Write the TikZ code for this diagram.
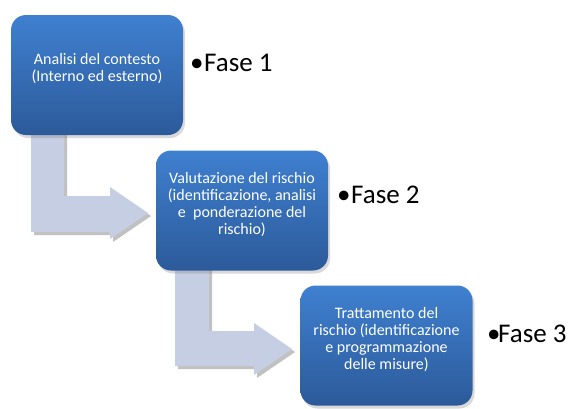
\documentclass[tikz,border=0pt]{standalone}
\usepackage{fontspec}
\setmainfont{Carlito}
\usetikzlibrary{shadows}
\definecolor{boxtop}{HTML}{3F80D0}
\definecolor{boxbot}{HTML}{2C5A9A}
\definecolor{arrowfill}{HTML}{C5CEE2}
\definecolor{arrowshadow}{HTML}{8E8E8E}
\begin{document}
\begin{tikzpicture}[x=1pt,y=-1pt,
  box/.style={rounded corners=15pt, minimum width=172pt, minimum height=120pt,
    top color=boxtop, bottom color=boxbot, draw=none, inner sep=0pt,
    drop shadow={shadow xshift=2pt, shadow yshift=-3pt, opacity=0.3}},
  boxtext/.style={text=white, font=\fontsize{16}{17}\selectfont, align=center, inner sep=0pt},
  fase/.style={font=\fontsize{27}{32}\selectfont, anchor=base west, inner sep=0pt},
  arrowbody/.style={fill=arrowfill, draw=none},
  arrowshade/.style={fill=arrowshadow, opacity=0.55, draw=none}]
\useasboundingbox (0,0) rectangle (571,408);
% arrows (shadow then body)
\fill[arrowshade, shift={(3,3)}] (31,128) -- (64,128) -- (64,196) -- (110,196) -- (110,187) -- (148,213) -- (110,239) -- (110,232) -- (31,232) -- cycle;
\fill[arrowbody] (31,128) -- (64,128) -- (64,196) -- (110,196) -- (110,187) -- (148,213) -- (110,239) -- (110,232) -- (31,232) -- cycle;
\fill[arrowshade, shift={(3,3)}] (175,262) -- (209,262) -- (209,331) -- (254,331) -- (254,323) -- (292,349) -- (254,375) -- (254,366) -- (175,366) -- cycle;
\fill[arrowbody] (175,262) -- (209,262) -- (209,331) -- (254,331) -- (254,323) -- (292,349) -- (254,375) -- (254,366) -- (175,366) -- cycle;
% boxes
\node[box] (b1) at (97,75) {};
\node[box] (b2) at (242,210.5) {};
\node[box] (b3) at (386.5,345.5) {};
\node[boxtext] (t1) at ([yshift=6pt]b1.center) {Analisi del contesto\\(Interno ed esterno)};
\node[boxtext] (t2) at ([yshift=6pt]b2.center) {Valutazione del rischio\\(identificazione, analisi\\e\ \ ponderazione del\\rischio)};
\node[boxtext] (t3) at ([yshift=6pt]b3.center) {Trattamento del\\rischio (identificazione\\e programmazione\\delle misure)};
% phases
\node[fase] (f1) at (190,71) {\makebox[14pt][l]{•}Fase 1};
\node[fase] (f2) at (337,203) {\makebox[14pt][l]{•}Fase 2};
\node[fase] (f3) at (487,342) {\makebox[11pt][l]{•}Fase 3};
\end{tikzpicture}
\end{document}
